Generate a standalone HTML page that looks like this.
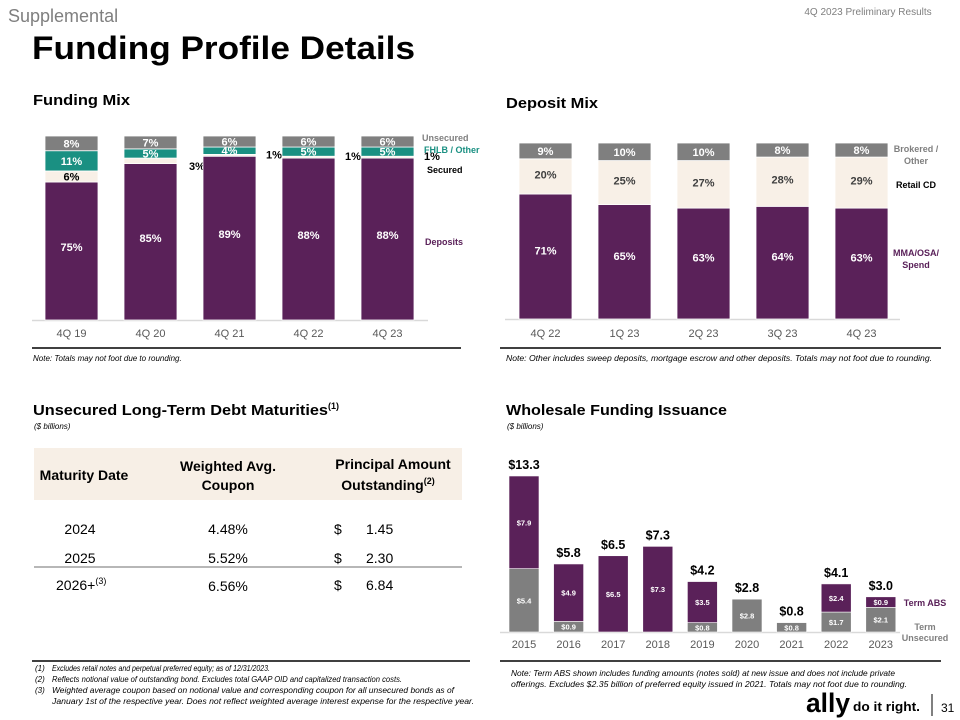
<!DOCTYPE html>
<html><head><meta charset="utf-8"><style>
body{margin:0;background:#fff;}
svg{display:block;font-family:"Liberation Sans",Arial,sans-serif;}
</style></head><body>
<svg id="page" width="960" height="720" viewBox="0 0 960 720">
<text x="8" y="22" font-size="18" fill="#7f7f7f">Supplemental</text>
<text x="868" y="15" font-size="10" fill="#7f7f7f" text-anchor="middle">4Q 2023 Preliminary Results</text>
<text x="32" y="59" font-size="32" font-weight="bold" fill="#000" textLength="383" lengthAdjust="spacingAndGlyphs">Funding Profile Details</text>

<text x="33" y="105" font-size="15" font-weight="bold" textLength="97" lengthAdjust="spacingAndGlyphs">Funding Mix</text>
<text x="506" y="108" font-size="15" font-weight="bold" textLength="92" lengthAdjust="spacingAndGlyphs">Deposit Mix</text>
<g id="fm"></g>
<g id="dm"></g>
<line x1="32" y1="348" x2="461" y2="348" stroke="#000" stroke-width="1.5"/>
<text x="33" y="361" font-size="8" font-style="italic">Note: Totals may not foot due to rounding.</text>
<line x1="500" y1="348" x2="941" y2="348" stroke="#000" stroke-width="1.5"/>
<text x="506" y="361" font-size="8" font-style="italic" textLength="426" lengthAdjust="spacingAndGlyphs">Note: Other includes sweep deposits, mortgage escrow and other deposits. Totals may not foot due to rounding.</text>

<text x="33" y="415" font-size="15" font-weight="bold"><tspan textLength="295" lengthAdjust="spacingAndGlyphs">Unsecured Long-Term Debt Maturities</tspan><tspan font-size="9" dy="-6">(1)</tspan></text>
<text x="34" y="429" font-size="8" font-style="italic">($ billions)</text>
<rect x="34" y="448" width="428" height="52" fill="#f7efe6"/>
<g font-size="14" font-weight="bold" text-anchor="middle">
<text x="84" y="480">Maturity Date</text>
<text x="228" y="471">Weighted Avg.</text>
<text x="228" y="490">Coupon</text>
<text x="393" y="469">Principal Amount</text>
<text x="388" y="490">Outstanding<tspan font-size="9" dy="-6">(2)</tspan></text>
</g>
<g font-size="14">
<text x="80" y="534" text-anchor="middle">2024</text>
<text x="228" y="534" text-anchor="middle">4.48%</text>
<text x="334" y="534">$</text>
<text x="366" y="534">1.45</text>
<text x="80" y="563" text-anchor="middle">2025</text>
<text x="228" y="563" text-anchor="middle">5.52%</text>
<text x="334" y="563">$</text>
<text x="366" y="563">2.30</text>
<line x1="34" y1="567" x2="462" y2="567" stroke="#8c8c8c" stroke-width="1.2"/>
<text x="56" y="590">2026+<tspan font-size="9" dy="-6">(3)</tspan></text>
<text x="228" y="591" text-anchor="middle">6.56%</text>
<text x="334" y="590">$</text>
<text x="366" y="590">6.84</text>
</g>

<text x="506" y="415" font-size="15" font-weight="bold" textLength="221" lengthAdjust="spacingAndGlyphs">Wholesale Funding Issuance</text>
<text x="507" y="429" font-size="8" font-style="italic">($ billions)</text>
<g id="wf"></g>

<line x1="32" y1="661" x2="470" y2="661" stroke="#000" stroke-width="1.5"/>
<g font-size="8" font-style="italic">
<text x="35" y="671">(1)</text>
<text x="52" y="671" textLength="218" lengthAdjust="spacingAndGlyphs">Excludes retail notes and perpetual preferred equity; as of 12/31/2023.</text>
<text x="35" y="682">(2)</text>
<text x="52" y="682" textLength="350" lengthAdjust="spacingAndGlyphs">Reflects notional value of outstanding bond. Excludes total GAAP OID and capitalized transaction costs.</text>
<text x="35" y="693">(3)</text>
<text x="52" y="693" textLength="402" lengthAdjust="spacingAndGlyphs">Weighted average coupon based on notional value and corresponding coupon for all unsecured bonds as of</text>
<text x="52" y="704" textLength="422" lengthAdjust="spacingAndGlyphs">January 1st of the respective year. Does not reflect weighted average interest expense for the respective year.</text>
</g>
<line x1="500" y1="661" x2="941" y2="661" stroke="#000" stroke-width="1.5"/>
<g font-size="8" font-style="italic">
<text x="511" y="676" textLength="384" lengthAdjust="spacingAndGlyphs">Note: Term ABS shown includes funding amounts (notes sold) at new issue and does not include private</text>
<text x="511" y="687" textLength="396" lengthAdjust="spacingAndGlyphs">offerings. Excludes $2.35 billion of preferred equity issued in 2021. Totals may not foot due to rounding.</text>
</g>
<g>
<text x="806" y="712" font-size="27" font-weight="bold" textLength="44" lengthAdjust="spacingAndGlyphs">ally</text>
<text x="853" y="711" font-size="13" font-weight="bold" textLength="67" lengthAdjust="spacingAndGlyphs">do it right.</text>
<line x1="932" y1="694" x2="932" y2="716" stroke="#000" stroke-width="1"/>
</g>
<text x="941" y="712" font-size="12">31</text>
</svg>
<script>
var NS="http://www.w3.org/2000/svg";
function mk(p,t,a,txt){var e=document.createElementNS(NS,t);for(var k in a)e.setAttribute(k,a[k]);if(txt!=null)e.textContent=txt;p.appendChild(e);return e;}

// Funding Mix data
var fmCategories=["4Q 19","4Q 20","4Q 21","4Q 22","4Q 23"];
var fmDeposits=[75,85,89,88,88];
var fmSecured=[6,3,1,1,1];
var fmFhlb=[11,5,4,5,5];
var fmUnsecured=[8,7,6,6,6];
// Deposit Mix data
var dmCategories=["4Q 22","1Q 23","2Q 23","3Q 23","4Q 23"];
var dmSpend=[71,65,63,64,63];
var dmRetailCd=[20,25,27,28,29];
var dmBrokered=[9,10,10,8,8];
// Wholesale data
var wfYears=["2015","2016","2017","2018","2019","2020","2021","2022","2023"];
var wfUnsecured=[5.4,0.9,0,0,0.8,2.8,0.8,1.7,2.1];
var wfAbs=[7.9,4.9,6.5,7.3,3.5,0,0,2.4,0.9];
var wfTotals=["$13.3","$5.8","$6.5","$7.3","$4.2","$2.8","$0.8","$4.1","$3.0"];

var PURPLE="#5a2159",CREAM="#f8f0e7",TEAL="#1a9082",GRAY="#7f7f7f";

// Funding mix
(function(){
 var g=document.getElementById("fm");
 var base=320,scale=1.84,x0=45,step=79,w=53;
 function y(v){return base-v*scale;}
 mk(g,"line",{x1:32,y1:base+0.5,x2:428,y2:base+0.5,stroke:"#d9d9d9","stroke-width":1.5});
 fmCategories.forEach(function(c,i){
  var x=x0+i*step,cum=0;
  var segs=[[fmDeposits[i],PURPLE,"#fff","deposits"],[fmSecured[i],CREAM,"#000","secured"],[fmFhlb[i],TEAL,"#fff","fhlb"],[fmUnsecured[i],GRAY,"#fff","unsecured"]];
  segs.forEach(function(s){
   var yt=y(cum+s[0]),h=s[0]*scale;
   var r=mk(g,"rect",{x:x,y:yt,width:w,height:h,fill:s[1],stroke:"#fff","stroke-width":0.8});
   
   
   var lbl;
   if(s[3]=="secured"&&s[0]<5){lbl=mk(g,"text",{x:x+w+(i==1?12:10),y:yt+(i==1?12:4),"font-size":11,"font-weight":"bold",fill:"#000"},s[0]+"%");}
   else lbl=mk(g,"text",{x:x+w/2,y:yt+h/2+4+(s[3]=="deposits"?-4:0),"text-anchor":"middle","font-size":11,"font-weight":"bold",fill:s[2]},s[0]+"%");
   
   
   cum+=s[0];
  });
  var t=mk(g,"text",{x:x+w/2,y:337,"text-anchor":"middle","font-size":11,fill:"#595959"},c);
  
  
 });
 var lg=[["Unsecured",422,141,GRAY],["FHLB / Other",424,153,TEAL],["Secured",427,173,"#000"],["Deposits",425,245,PURPLE]];
 lg.forEach(function(l){var t=mk(g,"text",{x:l[1],y:l[2],"font-size":9,"font-weight":"bold",fill:l[3]},l[0]);
  
  });
})();

// Deposit mix
(function(){
 var g=document.getElementById("dm");
 var base=319,scale=1.76,x0=519,step=79,w=53;
 function y(v){return base-v*scale;}
 mk(g,"line",{x1:505,y1:base+0.5,x2:900,y2:base+0.5,stroke:"#d9d9d9","stroke-width":1.5});
 dmCategories.forEach(function(c,i){
  var x=x0+i*step,cum=0;
  var segs=[[dmSpend[i],PURPLE,"#fff","spend"],[dmRetailCd[i],CREAM,"#404040","retail-cd"],[dmBrokered[i],GRAY,"#fff","brokered"]];
  segs.forEach(function(s){
   var yt=y(cum+s[0]),h=s[0]*scale;
   var r=mk(g,"rect",{x:x,y:yt,width:w,height:h,fill:s[1],stroke:"#fff","stroke-width":0.8});
   
   
   var ly=s[3]=="brokered"?yt+h/2+4:(s[3]=="retail-cd"?yt+h/2+2:yt+h/2-2);
   var lbl=mk(g,"text",{x:x+w/2,y:ly,"text-anchor":"middle","font-size":11,"font-weight":"bold",fill:s[2]},s[0]+"%");
   
   
   cum+=s[0];
  });
  var t=mk(g,"text",{x:x+w/2,y:337,"text-anchor":"middle","font-size":11,fill:"#595959"},c);
  
  
 });
 var lg=[["Brokered /",916,152,GRAY],["Other",916,164,GRAY],["Retail CD",916,188,"#000"],["MMA/OSA/",916,256,PURPLE],["Spend",916,268,PURPLE]];
 lg.forEach(function(l,k){var t=mk(g,"text",{x:l[1],y:l[2],"font-size":9,"font-weight":"bold","text-anchor":"middle",fill:l[3]},l[0]);
  
  });
})();

// Wholesale
(function(){
 var g=document.getElementById("wf");
 var base=632,scale=11.73,x0=509,step=44.6,w=30;
 function y(v){return base-v*scale;}
 mk(g,"line",{x1:500,y1:base+0.5,x2:900,y2:base+0.5,stroke:"#d9d9d9","stroke-width":1.5});
 wfYears.forEach(function(yr,i){
  var x=x0+i*step;
  var u=wfUnsecured[i],a=wfAbs[i];
  if(u>0){var r=mk(g,"rect",{x:x,y:y(u),width:w,height:u*scale,fill:GRAY,stroke:"#fff","stroke-width":0.6});
   
   
   var l=mk(g,"text",{x:x+w/2,y:y(u/2)+3,"text-anchor":"middle","font-size":7.5,"font-weight":"bold",fill:"#fff"},"$"+u.toFixed(1));
   
   }
  if(a>0){var r2=mk(g,"rect",{x:x,y:y(u+a),width:w,height:a*scale,fill:PURPLE,stroke:"#fff","stroke-width":0.6});
   
   
   var l2=mk(g,"text",{x:x+w/2,y:y(u+a/2)+3,"text-anchor":"middle","font-size":7.5,"font-weight":"bold",fill:"#fff"},"$"+a.toFixed(1));
   
   }
  var tt=mk(g,"text",{x:x+w/2,y:y(u+a)-7,"text-anchor":"middle","font-size":12.5,"font-weight":"bold",fill:"#000"},wfTotals[i]);
  
  
  var t=mk(g,"text",{x:x+w/2,y:648,"text-anchor":"middle","font-size":11,fill:"#595959"},yr);
  
  
 });
 var lg=[["Term ABS",925,606,PURPLE],["Term",925,630,GRAY],["Unsecured",925,641,GRAY]];
 lg.forEach(function(l,k){var t=mk(g,"text",{x:l[1],y:l[2],"font-size":9,"font-weight":"bold","text-anchor":"middle",fill:l[3]},l[0]);
  
  });
})();
</script>
</body></html>
